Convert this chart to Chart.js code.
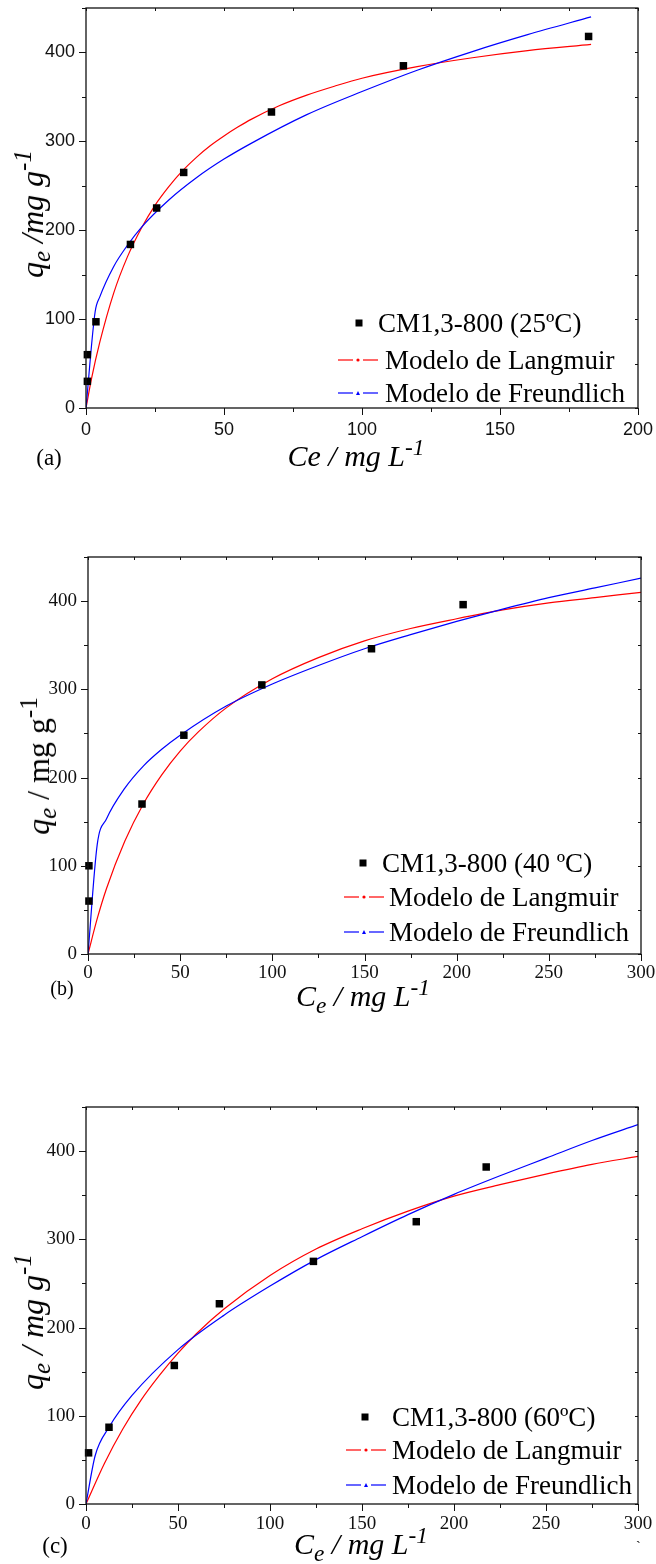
<!DOCTYPE html>
<html>
<head>
<meta charset="utf-8">
<script src="https://cdn.jsdelivr.net/npm/chart.js@4.4.1/dist/chart.umd.min.js"></script>
<style>
  html, body { margin: 0; padding: 0; background: #fff; }
  body { width: 656px; height: 1564px; position: relative; overflow: hidden;
         font-family: 'Liberation Serif', 'Times New Roman', serif; color: #000; }
  canvas { position: absolute; left: 0; }
  .t { position: absolute; white-space: nowrap; line-height: 1; }
  .ytitle { font-size: 32px; transform: translate(-50%, -50%) rotate(-90deg); }
  .xtitle { font-size: 30px; transform: translate(-50%, -50%); }
  .tag { font-size: 23px; transform: translate(-50%, -50%); }
  .leg { font-size: 27px; transform: translateY(-50%); }
  sub, sup { font-size: 78%; line-height: 0; }
  .sq { position: absolute; width: 7px; height: 7px; background: #000; transform: translate(-50%, -50%); }
  .sym { position: absolute; transform: translateY(-50%); }
</style>
</head>
<body>
<canvas id="chartA" width="656" height="440" style="top:0"></canvas>
<canvas id="chartB" width="656" height="445" style="top:540px"></canvas>
<canvas id="chartC" width="656" height="445" style="top:1090px"></canvas>

<!-- panel (a) -->
<div class="t ytitle" style="left:32px; top:214px"><i>q<sub>e</sub> /mg g<sup>-1</sup></i></div>
<div class="t xtitle" style="left:356px; top:456px"><i>Ce / mg L<sup>-1</sup></i></div>
<div class="t tag" style="left:49px; top:457px">(a)</div>
<div class="sq" style="left:359px; top:323px"></div>
<div class="t leg" style="left:378px; top:323px">CM1,3-800 (25ºC)</div>
<svg class="sym" style="left:338px; top:360px" width="40" height="8"><line x1="0" y1="4" x2="15" y2="4" stroke="#f00" stroke-width="1.2"/><circle cx="20" cy="4" r="1.6" fill="#f00"/><line x1="25" y1="4" x2="40" y2="4" stroke="#f00" stroke-width="1.2"/></svg>
<div class="t leg" style="left:385px; top:360px">Modelo de Langmuir</div>
<svg class="sym" style="left:338px; top:393px" width="40" height="8"><line x1="0" y1="4" x2="15" y2="4" stroke="#00f" stroke-width="1.2"/><polygon points="18,6 22,6 20,2" fill="#00f"/><line x1="25" y1="4" x2="40" y2="4" stroke="#00f" stroke-width="1.2"/></svg>
<div class="t leg" style="left:385px; top:393px">Modelo de Freundlich</div>

<!-- panel (b) -->
<div class="t ytitle" style="left:38px; top:766px"><i>q<sub>e</sub></i> / mg g<sup>-1</sup></div>
<div class="t xtitle" style="left:363px; top:996px"><i>C<sub>e</sub> / mg L<sup>-1</sup></i></div>
<div class="t tag" style="left:62px; top:988px; font-size:20px">(b)</div>
<div class="sq" style="left:363px; top:863px"></div>
<div class="t leg" style="left:382px; top:863px">CM1,3-800 (40 ºC)</div>
<svg class="sym" style="left:344px; top:897px" width="40" height="8"><line x1="0" y1="4" x2="15" y2="4" stroke="#f00" stroke-width="1.2"/><circle cx="20" cy="4" r="1.6" fill="#f00"/><line x1="25" y1="4" x2="40" y2="4" stroke="#f00" stroke-width="1.2"/></svg>
<div class="t leg" style="left:389px; top:897px">Modelo de Langmuir</div>
<svg class="sym" style="left:344px; top:932px" width="40" height="8"><line x1="0" y1="4" x2="15" y2="4" stroke="#00f" stroke-width="1.2"/><polygon points="18,6 22,6 20,2" fill="#00f"/><line x1="25" y1="4" x2="40" y2="4" stroke="#00f" stroke-width="1.2"/></svg>
<div class="t leg" style="left:389px; top:932px">Modelo de Freundlich</div>

<!-- panel (c) -->
<div class="t ytitle" style="left:32px; top:1322px"><i>q<sub>e</sub> / mg g<sup>-1</sup></i></div>
<div class="t xtitle" style="left:361px; top:1544px"><i>C<sub>e</sub> / mg L<sup>-1</sup></i></div>
<div class="t tag" style="left:55px; top:1545px">(c)</div>
<div class="sq" style="left:365px; top:1417px"></div>
<div class="t leg" style="left:392px; top:1417px">CM1,3-800 (60ºC)</div>
<svg class="sym" style="left:346px; top:1450px" width="40" height="8"><line x1="0" y1="4" x2="15" y2="4" stroke="#f00" stroke-width="1.2"/><circle cx="20" cy="4" r="1.6" fill="#f00"/><line x1="25" y1="4" x2="40" y2="4" stroke="#f00" stroke-width="1.2"/></svg>
<div class="t leg" style="left:392px; top:1450px">Modelo de Langmuir</div>
<svg class="sym" style="left:346px; top:1485px" width="40" height="8"><line x1="0" y1="4" x2="15" y2="4" stroke="#00f" stroke-width="1.2"/><polygon points="18,6 22,6 20,2" fill="#00f"/><line x1="25" y1="4" x2="40" y2="4" stroke="#00f" stroke-width="1.2"/></svg>
<div class="t leg" style="left:392px; top:1485px">Modelo de Freundlich</div>
<div class="t" style="left:636px; top:1540px; font-size:14px">`</div>

<script>
// (a) 25 ºC
const ceA = [0.5, 0.5, 3.6, 16.1, 25.6, 35.4, 67.2, 115, 182.1];
const qeA = [30, 60, 97, 184, 225, 265, 333, 385, 418];
const langXA = [0, 2, 5, 10, 15, 20, 25, 30, 35, 40, 45, 50, 55, 60, 70, 80, 90, 100, 120, 140, 160, 183];
const langYA = [0, 33, 74, 129, 170, 202, 228, 249, 267, 282, 295, 306, 316, 325, 340, 352, 362, 371, 384, 394, 402, 409];
const freuXA = [0, 3.3, 5, 10, 15, 20, 30, 40, 50, 60, 80, 100, 120, 140, 160, 183];
const freuYA = [0, 108, 125, 159, 183, 203, 234, 259, 280, 298, 330, 356, 380, 401, 420, 440];

// (b) 40 ºC
const ceB = [0.5, 0.5, 29.3, 52, 94.3, 153.8, 203.5];
const qeB = [60, 100, 170, 248, 305, 346, 396];
const langXB = [0, 5, 10, 20, 30, 40, 50, 60, 75, 100, 125, 150, 175, 200, 225, 250, 275, 300];
const langYB = [0, 40, 74, 128, 170, 203, 230, 252, 279, 312, 336, 355, 369, 380, 390, 398, 404, 410];
const freuXB = [0, 5, 10, 20, 30, 40, 50, 75, 100, 125, 150, 175, 200, 225, 250, 275, 300];
const freuYB = [0, 124, 153, 188, 213, 232, 248, 281, 306, 327, 346, 362, 377, 391, 404, 415, 426];

// (c) 60 ºC
const ceC = [1.4, 12.5, 48, 72.5, 123.6, 179.5, 217.5];
const qeC = [58, 87, 157, 227, 275, 320, 382];
const langXC = [0, 10, 20, 30, 40, 50, 60, 75, 100, 125, 150, 175, 200, 225, 250, 275, 300];
const langYC = [0, 46, 85, 118, 146, 171, 193, 221, 259, 289, 312, 332, 349, 362, 374, 385, 394];
const freuXC = [0, 5, 12.5, 25, 50, 75, 100, 125, 150, 175, 200, 225, 250, 275, 300];
const freuYC = [0, 55, 87, 123, 175, 214, 247, 277, 303, 328, 351, 372, 392, 412, 430];

const yMax = 450;

function pts(xs, ys) {
  return xs.map((x, i) => ({ x, y: ys[i] }));
}

// box round the plot, outward ticks left/bottom, short inward ticks top/right
const framePlugin = {
  id: 'frame',
  afterDatasetsDraw(chart) {
    const { ctx, chartArea: a, scales: { x, y } } = chart;
    ctx.save();
    ctx.strokeStyle = '#111';
    ctx.lineWidth = 1.3;
    ctx.strokeRect(a.left, a.top, a.right - a.left, a.bottom - a.top);
    ctx.lineWidth = 1;
    ctx.beginPath();
    y.ticks.forEach(t => {
      const py = Math.round(y.getPixelForValue(t.value)) + 0.5;
      const len = t.value % 100 === 0 ? 7 : 4;
      ctx.moveTo(a.left - len, py); ctx.lineTo(a.left, py);
      ctx.moveTo(a.right - 3, py); ctx.lineTo(a.right, py);
    });
    x.ticks.forEach(t => {
      const px = Math.round(x.getPixelForValue(t.value)) + 0.5;
      const len = t.value % 50 === 0 ? 7 : 4;
      ctx.moveTo(px, a.bottom); ctx.lineTo(px, a.bottom + len);
      ctx.moveTo(px, a.top); ctx.lineTo(px, a.top + 3);
    });
    ctx.stroke();
    ctx.restore();
  }
};

function makeChart(id, o) {
  const tickFont = { family: o.family, size: o.size };
  return new Chart(document.getElementById(id), {
    type: 'scatter',
    data: {
      datasets: [
        {
          data: pts(o.ce, o.qe),
          pointStyle: 'rect',
          pointRadius: 5.3,
          backgroundColor: '#000',
          borderWidth: 0,
          clip: false,
          order: 0
        },
        {
          data: pts(o.fx, o.fy),
          showLine: true,
          borderColor: '#0000ff',
          borderWidth: 1.2,
          pointRadius: 0,
          cubicInterpolationMode: 'monotone',
          order: 1
        },
        {
          data: pts(o.lx, o.ly),
          showLine: true,
          borderColor: '#ff0000',
          borderWidth: 1.2,
          pointRadius: 0,
          cubicInterpolationMode: 'monotone',
          order: 2
        }
      ]
    },
    options: {
      responsive: false,
      animation: false,
      layout: { padding: { top: o.top, right: o.right, left: 0, bottom: 0 } },
      plugins: { legend: { display: false }, tooltip: { enabled: false } },
      scales: {
        x: {
          type: 'linear',
          min: 0,
          max: o.xmax,
          grid: { display: false, drawTicks: false },
          border: { display: false },
          ticks: {
            stepSize: 25,
            autoSkip: false,
            maxRotation: 0,
            padding: o.xpad,
            color: '#111',
            font: tickFont,
            callback: v => v % 50 === 0 ? v : ''
          },
          afterFit: s => { s.height = o.xh; s.paddingLeft = 0; s.paddingRight = 0; }
        },
        y: {
          min: 0,
          max: yMax,
          grid: { display: false, drawTicks: false },
          border: { display: false },
          ticks: {
            stepSize: 50,
            autoSkip: false,
            padding: 11,
            color: '#111',
            font: tickFont,
            callback: v => v % 100 === 0 ? v : ''
          },
          afterFit: s => { s.width = o.yw; s.paddingTop = 0; s.paddingBottom = 0; }
        }
      }
    },
    plugins: [framePlugin]
  });
}

makeChart('chartA', {
  ce: ceA, qe: qeA, lx: langXA, ly: langYA, fx: freuXA, fy: freuYA,
  xmax: 200, top: 8, right: 18, yw: 86, xh: 32, xpad: 11,
  family: "'Liberation Sans', Arial, sans-serif", size: 18
});
makeChart('chartB', {
  ce: ceB, qe: qeB, lx: langXB, ly: langYB, fx: freuXB, fy: freuYB,
  xmax: 300, top: 17, right: 15, yw: 88, xh: 31, xpad: 8,
  family: "'Liberation Serif', 'Times New Roman', serif", size: 19
});
makeChart('chartC', {
  ce: ceC, qe: qeC, lx: langXC, ly: langYC, fx: freuXC, fy: freuYC,
  xmax: 300, top: 17, right: 18, yw: 86, xh: 31, xpad: 9,
  family: "'Liberation Serif', 'Times New Roman', serif", size: 19
});
</script>
</body>
</html>
